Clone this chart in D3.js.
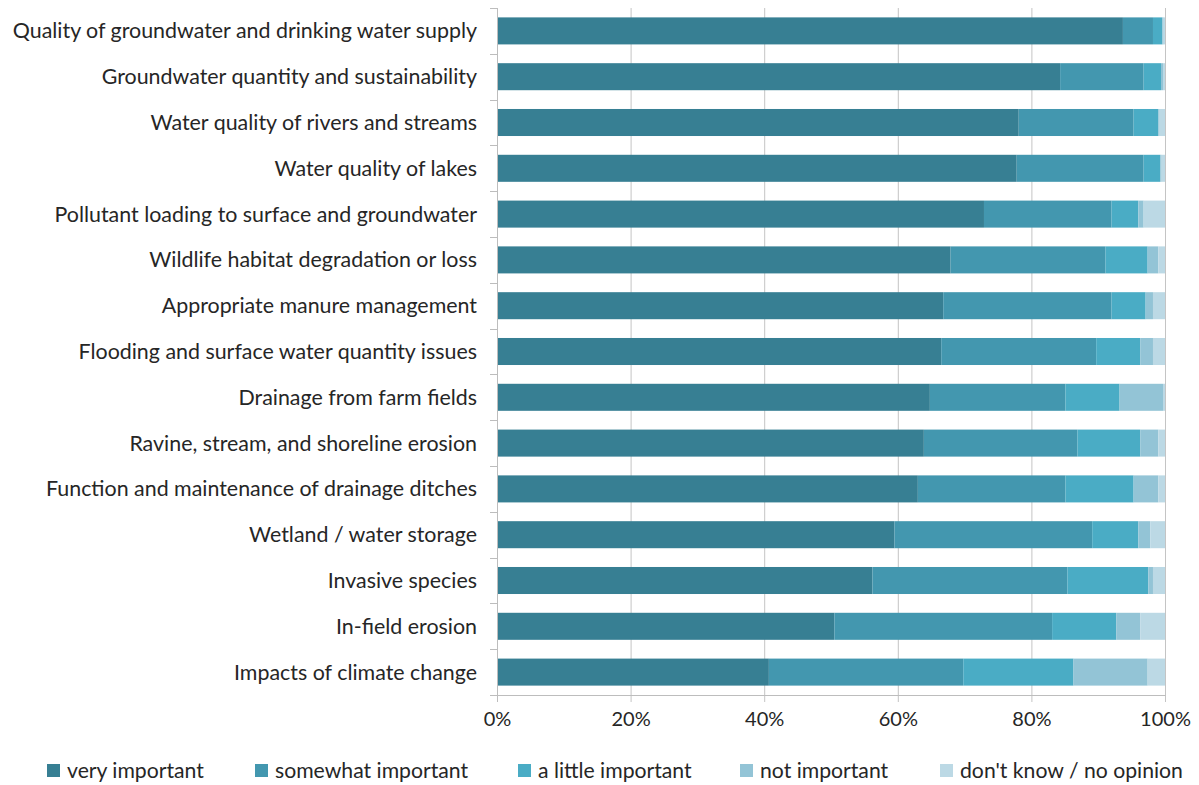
<!DOCTYPE html>
<html>
<head>
<meta charset="utf-8">
<script src="https://cdn.jsdelivr.net/npm/d3@7"></script>
<style>
  html, body { margin: 0; padding: 0; background: #ffffff; }
  svg { display: block; }
  text { font-family: Lato, "Open Sans", sans-serif; fill: #262626; }
</style>
</head>
<body>
<svg id="chart" width="1199" height="785"></svg>
<script>
// Survey issues, top to bottom
const categories = [
  "Quality of groundwater and drinking water supply",
  "Groundwater quantity and sustainability",
  "Water quality of rivers and streams",
  "Water quality of lakes",
  "Pollutant loading to surface and groundwater",
  "Wildlife habitat degradation or loss",
  "Appropriate manure management",
  "Flooding and surface water quantity issues",
  "Drainage from farm fields",
  "Ravine, stream, and shoreline erosion",
  "Function and maintenance of drainage ditches",
  "Wetland / water storage",
  "Invasive species",
  "In-field erosion",
  "Impacts of climate change"
];

const seriesNames = ["very important", "somewhat important", "a little important", "not important", "don't know / no opinion"];

// Share of responses (%) per category, one array per response level
const veryImportant     = [93.7, 84.3, 78.1, 77.8, 72.9, 67.9, 66.8, 66.5, 64.8, 63.9, 63.0, 59.5, 56.2, 50.5, 40.7];
const somewhatImportant = [ 4.5, 12.5, 17.2, 19.0, 19.1, 23.2, 25.2, 23.2, 20.3, 23.0, 22.1, 29.6, 29.2, 32.6, 29.1];
const littleImportant   = [ 1.4,  2.6,  3.7,  2.5,  4.0,  6.3,  5.1,  6.6,  8.1,  9.4, 10.2,  6.9, 12.1,  9.6, 16.5];
const notImportant      = [ 0.2,  0.3,  0.2,  0.2,  0.8,  1.6,  1.1,  1.9,  6.5,  2.7,  3.7,  1.8,  0.7,  3.6, 11.1];
const dontKnow          = [ 0.2,  0.3,  0.8,  0.5,  3.2,  1.0,  1.8,  1.8,  0.3,  1.0,  1.0,  2.2,  1.8,  3.7,  2.6];

const xTicks = [0, 20, 40, 60, 80, 100];
const colors = ["#377f93", "#4397af", "#4aacc5", "#93c4d6", "#bcd9e5"];

const seriesValues = [veryImportant, somewhatImportant, littleImportant, notImportant, dontKnow];
const rows = categories.map((c, i) => {
  const r = { category: c };
  seriesNames.forEach((s, k) => { r[s] = seriesValues[k][i]; });
  return r;
});

const svg = d3.select("#chart");
const plotLeft = 497, plotRight = 1165, plotTop = 8, plotBottom = 695;

const x = d3.scaleLinear().domain([0, 100]).range([plotLeft, plotRight]);
const y = d3.scaleBand().domain(categories).range([plotTop, plotBottom]).paddingInner(0.41).paddingOuter(0.205);

const stacked = d3.stack().keys(seriesNames)(rows);

// vertical gridlines (extend slightly below the axis as tick marks)
svg.append("g").selectAll("line")
  .data(xTicks.filter(t => t > 0))
  .join("line")
  .attr("x1", d => x(d) + 0.5).attr("x2", d => x(d) + 0.5)
  .attr("y1", plotTop).attr("y2", plotBottom + 7)
  .attr("stroke", "#c4c4c4").attr("stroke-width", 1);

// bars
svg.append("g").selectAll("g")
  .data(stacked)
  .join("g")
  .attr("fill", (d, i) => colors[i])
  .selectAll("rect")
  .data(d => d)
  .join("rect")
  .attr("x", d => x(d[0]))
  .attr("width", d => Math.max(0, x(d[1]) - x(d[0])))
  .attr("y", d => y(d.data.category))
  .attr("height", y.bandwidth());

// category axis with ticks at band boundaries
const yAxis = svg.append("g");
yAxis.append("line")
  .attr("x1", plotLeft + 0.5).attr("x2", plotLeft + 0.5)
  .attr("y1", plotTop).attr("y2", plotBottom + 7)
  .attr("stroke", "#bdbdbd");
const bounds = d3.range(categories.length + 1).map(i => plotTop + i * y.step());
yAxis.selectAll("line.tick")
  .data(bounds)
  .join("line")
  .attr("class", "tick")
  .attr("x1", plotLeft - 7).attr("x2", plotLeft)
  .attr("y1", d => Math.round(d) + 0.5).attr("y2", d => Math.round(d) + 0.5)
  .attr("stroke", "#bdbdbd");
yAxis.selectAll("text")
  .data(categories)
  .join("text")
  .attr("x", plotLeft - 20)
  .attr("y", d => y(d) + y.bandwidth() / 2)
  .attr("dy", "0.35em")
  .attr("text-anchor", "end")
  .attr("font-size", 21.4)
  .text(d => d);

// percentage axis
const xAxis = svg.append("g").attr("transform", `translate(0,${plotBottom})`)
  .call(d3.axisBottom(x).tickValues(xTicks).tickFormat(d => d + "%").tickSize(0).tickPadding(17));
xAxis.select(".domain").attr("stroke", "#bdbdbd");
xAxis.selectAll("text")
  .attr("font-size", 20)
  .attr("fill", "#262626")
  .style("font-family", "Lato, 'Open Sans', sans-serif");

// legend
const legendX = [47, 255, 518, 740, 940];
const legend = svg.append("g").attr("transform", "translate(0,771)");
const item = legend.selectAll("g")
  .data(seriesNames)
  .join("g")
  .attr("transform", (d, i) => `translate(${legendX[i]},0)`);
item.append("rect")
  .attr("x", 0).attr("y", -7)
  .attr("width", 13).attr("height", 13)
  .attr("fill", (d, i) => colors[i]);
item.append("text")
  .attr("x", 20).attr("y", 0)
  .attr("dy", "0.35em")
  .attr("font-size", 21.2)
  .text(d => d);
</script>
</body>
</html>
